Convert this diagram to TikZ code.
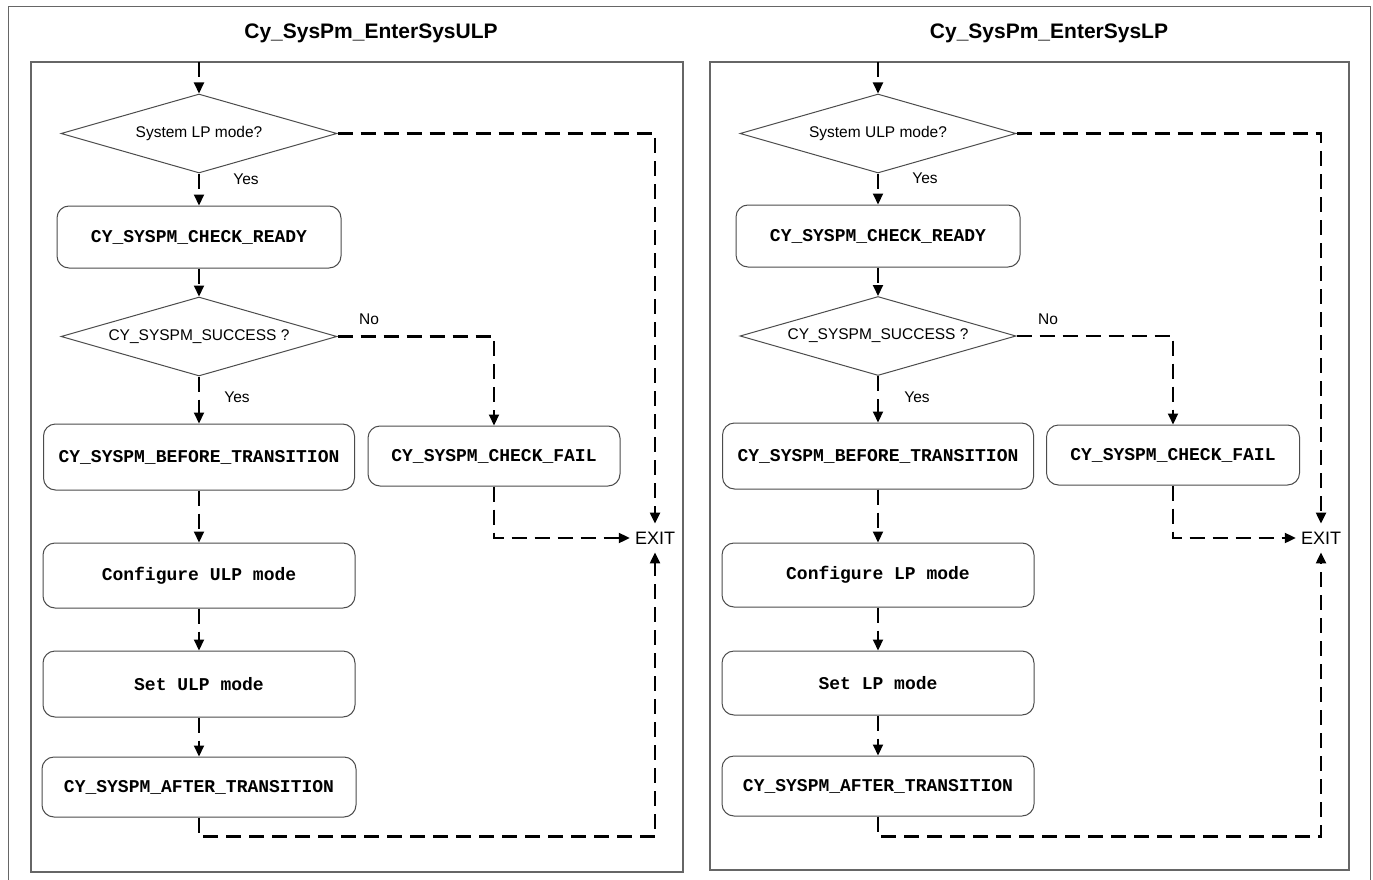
\documentclass[tikz,border=0pt]{standalone}
\usepackage{fontspec}
\setmainfont{Liberation Sans}
\newfontfamily\codefont{Liberation Mono}
\usetikzlibrary{shapes.geometric,arrows.meta}
\begin{document}
\begin{tikzpicture}[x=1pt,y=-1pt,
  frame/.style={draw=black!60, line width=1.3pt},
  box/.style={draw=black!70, line width=1pt, rounded corners=12pt, inner sep=0pt,
    font=\codefont\bfseries\fontsize{18}{21}\selectfont},
  dia/.style={draw=black!70, line width=1pt, diamond, aspect=3.5, inner sep=0pt,
    minimum width=276pt, minimum height=79pt, font=\fontsize{15.5}{18}\selectfont},
  conn/.style={line width=2.1pt, dash pattern=on 15pt off 8pt,
    -{Triangle[width=10pt,length=11pt]}},
  lbl/.style={font=\fontsize{15.5}{18}\selectfont, inner sep=0pt},
  exitnode/.style={font=\fontsize{18}{21}\selectfont, inner xsep=5pt, inner ysep=8pt},
  ttl/.style={font=\bfseries\fontsize{21}{25}\selectfont, inner sep=0pt}
]
\useasboundingbox (0,0) rectangle (1373,880);
\fill[white] (0,0) rectangle (1373,880);
\draw[draw=black!60, line width=1pt] (8,7) rectangle (1370,895);

% ---------------- left panel ----------------
\node[ttl] (Ltitle) at (371,33) {Cy\_SysPm\_EnterSysULP};
\draw[frame] (31,62) rectangle (683,872);
\coordinate (Lin) at (199,62);
\node[dia] (Ld1) at (199,133.5) {System LP mode?};
\node[box, minimum width=284pt, minimum height=62pt] (Lready) at (199,237) {CY\_SYSPM\_CHECK\_READY};
\node[dia] (Ld2) at (199,336.5) {CY\_SYSPM\_SUCCESS ?};
\node[box, minimum width=311pt, minimum height=66pt] (Lbefore) at (199,457) {CY\_SYSPM\_BEFORE\_TRANSITION};
\node[box, minimum width=252pt, minimum height=60pt] (Lfail) at (494,456) {CY\_SYSPM\_CHECK\_FAIL};
\node[box, minimum width=312pt, minimum height=65pt] (Lconf) at (199,575.5) {Configure ULP mode};
\node[box, minimum width=312pt, minimum height=66pt] (Lset) at (199,684) {Set ULP mode};
\node[box, minimum width=314pt, minimum height=60pt] (Lafter) at (199,787) {CY\_SYSPM\_AFTER\_TRANSITION};
\node[exitnode] (Lexit) at (655,538) {EXIT};
\node[lbl] (Lyes1) at (246,179) {Yes};
\node[lbl] (Lno) at (369,319) {No};
\node[lbl] (Lyes2) at (237,397) {Yes};

\draw[conn] (Lin) -- (Ld1.north);
\draw[conn] (Ld1.south) -- (Lready.north);
\draw[conn] (Ld1.east) -| (Lexit.north);
\draw[conn] (Lready.south) -- (Ld2.north);
\draw[conn] (Ld2.south) -- (Lbefore.north);
\draw[conn] (Ld2.east) -| (Lfail.north);
\draw[conn] (Lbefore.south) -- (Lconf.north);
\draw[conn] (Lfail.south) |- (Lexit.west);
\draw[conn] (Lconf.south) -- (Lset.north);
\draw[conn] (Lset.south) -- (Lafter.north);
\draw[conn] (Lafter.south) -- ++(0,19) -| (Lexit.south);

% ---------------- right panel ----------------
\node[ttl] (Rtitle) at (1049,33) {Cy\_SysPm\_EnterSysLP};
\draw[frame] (710,62) rectangle (1349,870);
\coordinate (Rin) at (878,62);
\node[dia] (Rd1) at (878,133.5) {System ULP mode?};
\node[box, minimum width=284pt, minimum height=62pt] (Rready) at (878,236) {CY\_SYSPM\_CHECK\_READY};
\node[dia] (Rd2) at (878,336) {CY\_SYSPM\_SUCCESS ?};
\node[box, minimum width=311pt, minimum height=66pt] (Rbefore) at (878,456) {CY\_SYSPM\_BEFORE\_TRANSITION};
\node[box, minimum width=253pt, minimum height=60pt] (Rfail) at (1173,455) {CY\_SYSPM\_CHECK\_FAIL};
\node[box, minimum width=312pt, minimum height=64pt] (Rconf) at (878,575) {Configure LP mode};
\node[box, minimum width=312pt, minimum height=64pt] (Rset) at (878,683) {Set LP mode};
\node[box, minimum width=312pt, minimum height=60pt] (Rafter) at (878,786) {CY\_SYSPM\_AFTER\_TRANSITION};
\node[exitnode] (Rexit) at (1321,538) {EXIT};
\node[lbl] (Ryes1) at (925,178) {Yes};
\node[lbl] (Rno) at (1048,319) {No};
\node[lbl] (Ryes2) at (917,397) {Yes};

\draw[conn] (Rin) -- (Rd1.north);
\draw[conn] (Rd1.south) -- (Rready.north);
\draw[conn] (Rd1.east) -| (Rexit.north);
\draw[conn] (Rready.south) -- (Rd2.north);
\draw[conn] (Rd2.south) -- (Rbefore.north);
\draw[conn] (Rd2.east) -| (Rfail.north);
\draw[conn] (Rbefore.south) -- (Rconf.north);
\draw[conn] (Rfail.south) |- (Rexit.west);
\draw[conn] (Rconf.south) -- (Rset.north);
\draw[conn] (Rset.south) -- (Rafter.north);
\draw[conn] (Rafter.south) -- ++(0,20) -| (Rexit.south);
\end{tikzpicture}
\end{document}
